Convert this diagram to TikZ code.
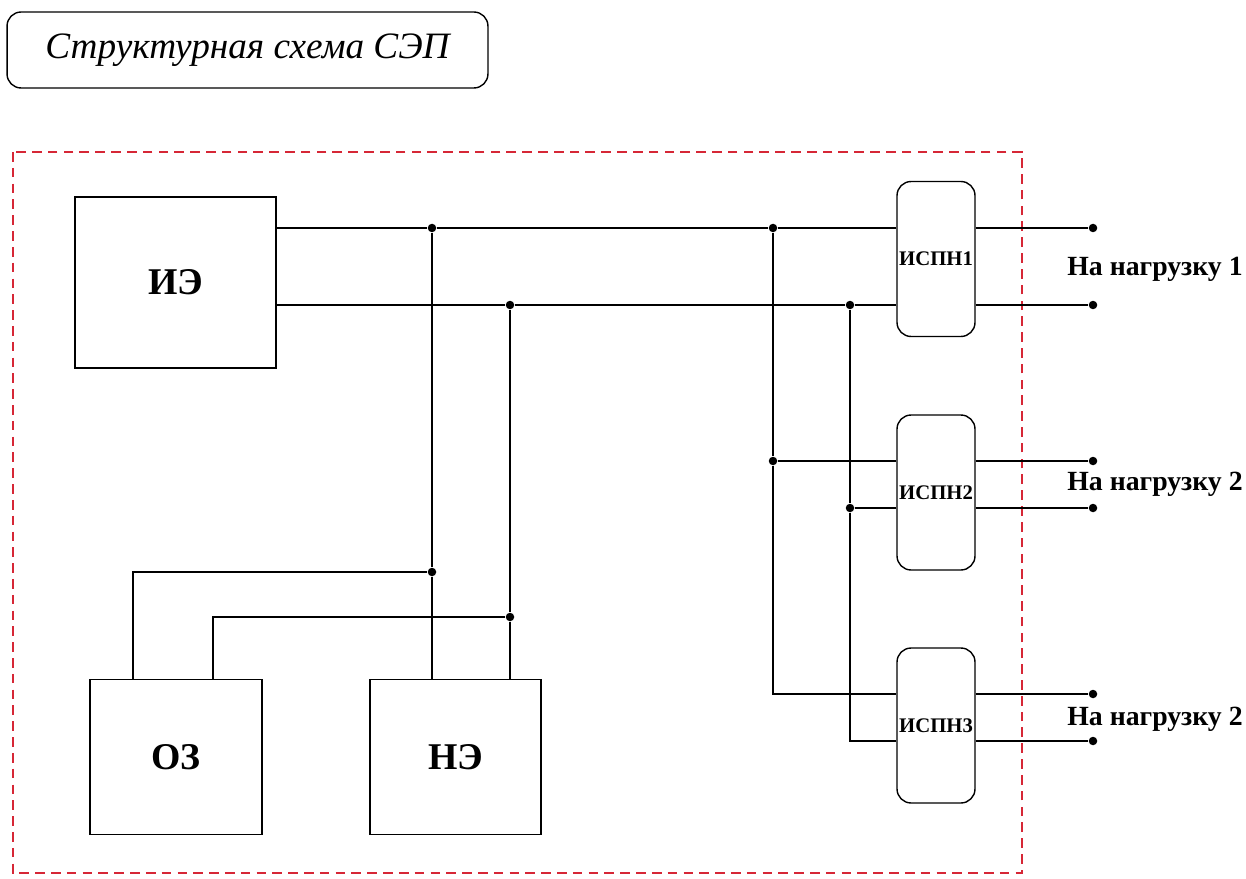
\documentclass[tikz,border=0pt]{standalone}
\usepackage{fontspec}
\setmainfont{Liberation Serif}
\usepackage{tikz}
\usepackage{xcolor}
\definecolor{framered}{RGB}{214,39,54}

\begin{document}
\begin{tikzpicture}[x=0.02cm, y=-0.02cm,
  block/.style={rectangle, draw, line width=0.8pt, inner sep=0pt},
  ispn/.style={rectangle, rounded corners=8pt, draw, line width=0.8pt, inner sep=0pt, minimum width=1.56cm, minimum height=3.1cm, font=\bfseries\fontsize{11.8}{13}\selectfont},
  dot/.style={circle, fill, inner sep=0pt, minimum size=0.17cm},
  load/.style={anchor=west, inner sep=0pt, font=\bfseries\fontsize{15.8}{17}\selectfont},
  wire/.style={line width=0.75pt, black}]
\useasboundingbox (0,0) rectangle (1246,878);

\node[block, rounded corners=8pt, minimum width=9.62cm, minimum height=1.52cm, font=\itshape\fontsize{21.2}{24}\selectfont] (title) at (247.5,50) {Структурная схема СЭП};

\draw[framered, line width=1.3pt, dash pattern=on 5.5pt off 3.5pt] (13,152) rectangle (1022,873);

\begin{scope}[every node/.style={font=\bfseries\fontsize{21.5}{24}\selectfont}]
\node[block, minimum width=4.02cm, minimum height=3.42cm] (ie) at (175.5,282.5) {ИЭ};
\node[block, minimum width=3.44cm, minimum height=3.1cm] (oz) at (176,757) {ОЗ};
\node[block, minimum width=3.42cm, minimum height=3.1cm] (ne) at (455.5,757) {НЭ};
\end{scope}

\node[ispn] (ispn1) at (936,259) {ИСПН1};
\node[ispn] (ispn2) at (936,492.5) {ИСПН2};
\node[ispn] (ispn3) at (936,725.5) {ИСПН3};

\node[dot] (j1) at (432,228) {};
\node[dot] (j2) at (510,305) {};
\node[dot] (j3) at (773,228) {};
\node[dot] (j4) at (850,305) {};
\node[dot] (j5) at (773,461) {};
\node[dot] (j6) at (850,508) {};
\node[dot] (j7) at (432,572) {};
\node[dot] (j8) at (510,617) {};

\node[dot] (o1a) at (1093,228) {};
\node[dot] (o1b) at (1093,305) {};
\node[dot] (o2a) at (1093,461) {};
\node[dot] (o2b) at (1093,508) {};
\node[dot] (o3a) at (1093,694) {};
\node[dot] (o3b) at (1093,741) {};

\node[load] (lbl1) at (1067,269) {На нагрузку 1};
\node[load] (lbl2) at (1067,484) {На нагрузку 2};
\node[load] (lbl3) at (1067,719) {На нагрузку 2};

\draw[wire] (ie.east |- j1) -- (j1) -- (j3) -- (ispn1.west |- j3);
\draw[wire] (ie.east |- j2) -- (j2) -- (j4) -- (ispn1.west |- j4);

\draw[wire] (j3) -- (j5) -- (ispn2.west |- j5);
\draw[wire] (j4) -- (j6) -- (ispn2.west |- j6);
\draw[wire] (j5) |- (ispn3.west |- o3a);
\draw[wire] (j6) |- (ispn3.west |- o3b);

\draw[wire] (ispn1.east |- o1a) -- (o1a);
\draw[wire] (ispn1.east |- o1b) -- (o1b);
\draw[wire] (ispn2.east |- o2a) -- (o2a);
\draw[wire] (ispn2.east |- o2b) -- (o2b);
\draw[wire] (ispn3.east |- o3a) -- (o3a);
\draw[wire] (ispn3.east |- o3b) -- (o3b);

\draw[wire] (j1) -- (j7) -- (ne.north -| j7);
\draw[wire] (j2) -- (j8) -- (ne.north -| j8);

\draw[wire] ([xshift=-0.86cm]oz.north) |- (j7);
\draw[wire] ([xshift=0.74cm]oz.north) |- (j8);

\end{tikzpicture}
\end{document}
